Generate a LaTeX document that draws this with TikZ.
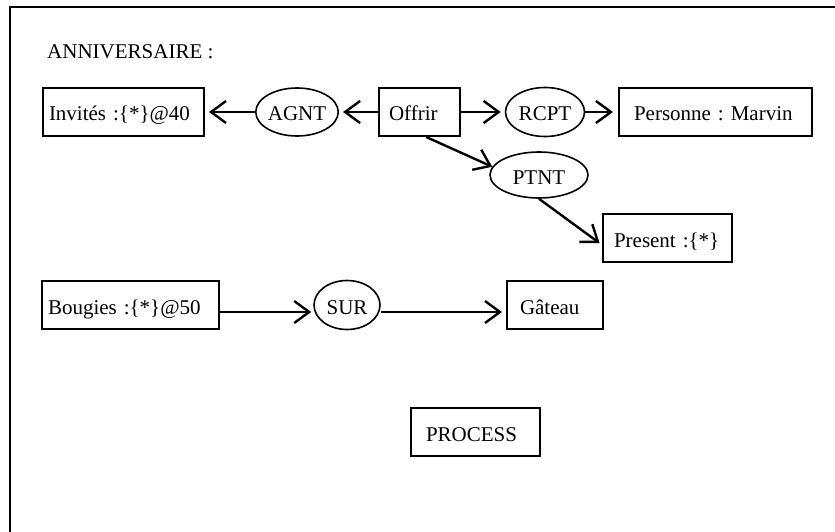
\documentclass[tikz,border=0pt]{standalone}
\usepackage{fontspec}
\setmainfont{Liberation Serif}
\usetikzlibrary{positioning, shapes.geometric, arrows.meta}

\begin{document}
\begin{tikzpicture}[
        x=1pt, y=-1pt,
        every node/.style={font=\fontsize{21}{25}\selectfont\frenchspacing},
        concept/.style={
            draw, line width=2pt, minimum height=48pt,
            inner ysep=0pt, anchor=west, align=left,
            text height=19pt, text depth=1pt
        },
        relation/.style={
            ellipse, draw, line width=1.6pt, inner sep=0pt,
            text height=19pt, text depth=1pt
        },
        arr/.style={draw, line width=2.4pt, -{Straight Barb[length=15pt, width=22pt]}}
    ]
    \useasboundingbox (0,0) rectangle (835,532);

    % Frame
    \draw[line width=2pt] (835,7) -- (10,7) -- (10,532);

    % Title
    \node[anchor=west, inner sep=0pt] (title) at (47,52) {ANNIVERSAIRE :};

    % First graph
    \node[concept, inner xsep=6pt, text width=149pt] (invites) at (42,112) {Invités :\{*\}@40};
    \node[relation, minimum width=63pt, minimum height=48pt] (agnt) at (297,112) {AGNT};
    \node[concept, inner xsep=10pt, text width=61pt] (offrir) at (378,112) {Offrir};
    \node[relation, minimum width=79pt, minimum height=49pt] (rcpt) at (545,112) {RCPT};
    \node[concept, inner xsep=15pt, text width=163pt] (personne) at (618,112) {Personne : Marvin};
    \node[relation, minimum width=98pt, minimum height=46pt] (ptnt) at (539,175) {PTNT};
    \node[concept, inner xsep=11pt, text width=107pt] (present) at (602,238) {Present :\{*\}};

    % Second graph
    \node[concept, inner xsep=6pt, text width=165pt] (bougies) at (41,305) {Bougies :\{*\}@50};
    \node[relation, minimum width=66pt, minimum height=49pt] (sur) at (347,305) {SUR};
    \node[concept, inner xsep=13pt, text width=70pt] (gateau) at (506,305) {Gâteau};

    % Process
    \node[concept, inner xsep=15pt, text width=99pt] (process) at (410,432) {PROCESS};

    % Arcs
    \draw[arr, shorten >=4pt] (agnt) -- (invites);
    \draw[arr, shorten >=4pt] (offrir) -- (agnt);
    \draw[arr, shorten >=4pt] (offrir) -- (rcpt);
    \draw[arr, shorten >=5pt] (rcpt) -- (personne);
    \draw[arr] (offrir.-75) -- (ptnt.170);
    \draw[arr, shorten >=3pt] (ptnt.south) -- (present.186);
    \draw[arr, shorten >=2pt] ([yshift=-7pt]bougies.east) -- ([yshift=-7pt]sur.west);
    \draw[arr, shorten >=4pt] ([yshift=-7pt]sur.east) -- ([yshift=-7pt]gateau.west);

\end{tikzpicture}
\end{document}
